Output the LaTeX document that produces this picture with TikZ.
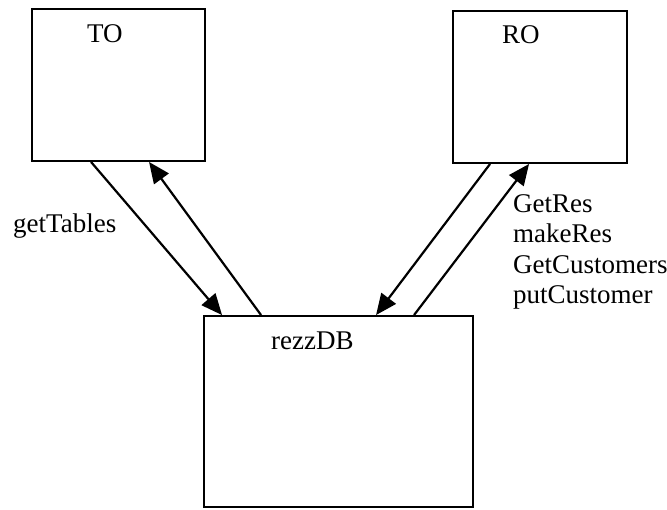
\documentclass[tikz,border=0pt]{standalone}
\usepackage{fontspec}
\setmainfont{Liberation Serif}
\usetikzlibrary{arrows.meta}
\begin{document}
\begin{tikzpicture}[x=1pt,y=-1pt,
  objbox/.style={draw,line width=1.9pt,inner sep=0pt},
  lbl/.style={inner sep=0pt,anchor=base west,font=\fontsize{27pt}{30.5pt}\selectfont},
  msg/.style={line width=2.2pt,-{Triangle[length=21pt,width=18pt]}}]
\useasboundingbox (0,0) rectangle (667,509);
% object boxes
\node[objbox,minimum width=173pt,minimum height=152pt] (TO) at (118.5,85) {};
\node[objbox,minimum width=174pt,minimum height=152pt] (RO) at (540,87) {};
\node[objbox,minimum width=269pt,minimum height=191pt] (DB) at (338.5,411.5) {};
% box titles
\node[lbl] (toname) at (87,42) {TO};
\node[lbl] (roname) at (502,43) {RO};
\node[lbl] (dbname) at (271,349) {rezzDB};
% messages between TO and rezzDB
\draw[msg] ([xshift=60pt]TO.south west) -- ([xshift=19pt]DB.north west);
\draw[msg] ([xshift=58pt]DB.north west) -- ([xshift=118pt]TO.south west);
% messages between RO and rezzDB
\draw[msg] ([xshift=38pt]RO.south west) -- ([xshift=173pt]DB.north west);
\draw[msg] ([xshift=211pt]DB.north west) -- ([xshift=77pt]RO.south west);
% message labels
\node[lbl] (tolbl) at (13,232) {getTables};
\node[lbl,align=left,anchor=north west] (rolbl) at (513,194) {GetRes\\makeRes\\GetCustomers\\putCustomer};
\end{tikzpicture}
\end{document}
